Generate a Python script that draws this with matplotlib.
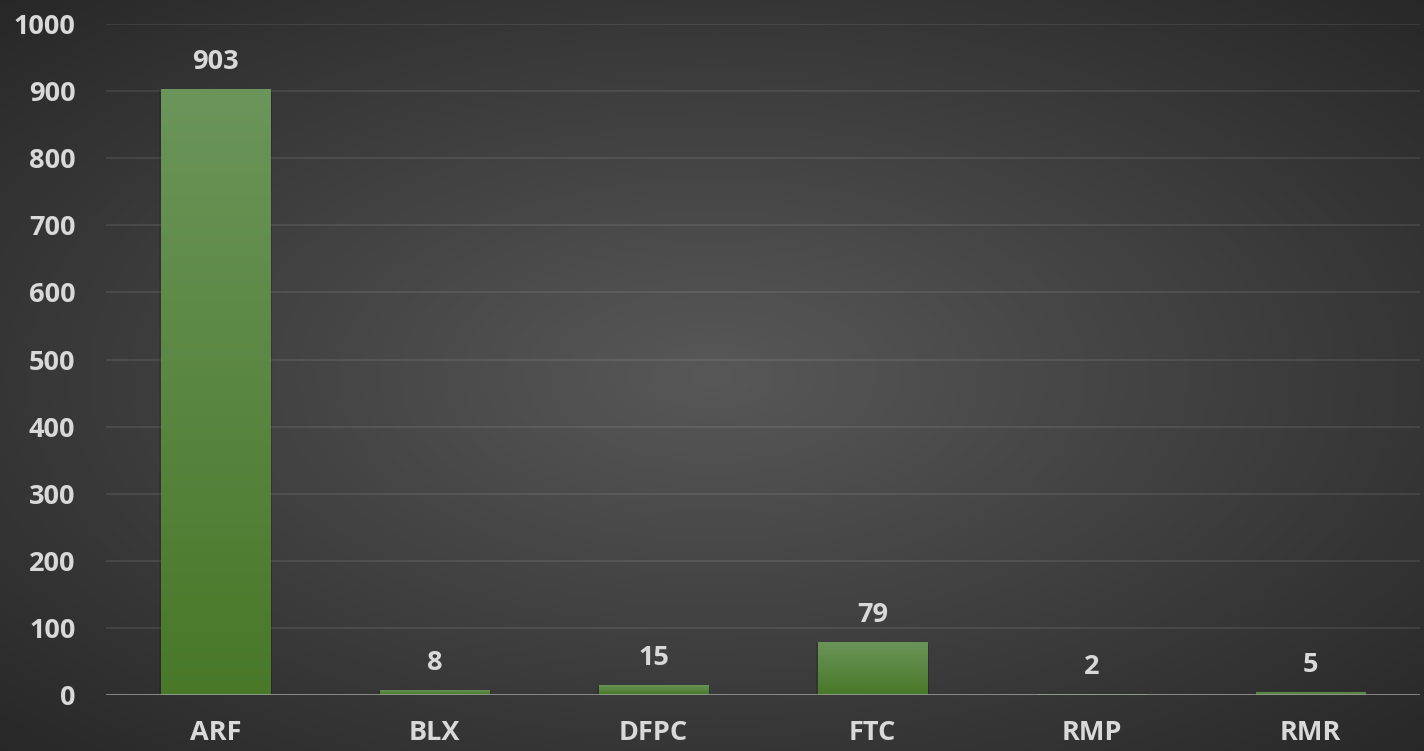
import numpy as np
import matplotlib
matplotlib.use("Agg")
import matplotlib.pyplot as plt
from matplotlib import patheffects as pe

categories = ["ARF", "BLX", "DFPC", "FTC", "RMP", "RMR"]
values = [903, 8, 15, 79, 2, 5]
yticks = [0, 100, 200, 300, 400, 500, 600, 700, 800, 900, 1000]

plt.rcParams['font.family'] = ['Open Sans', 'DejaVu Sans']
TXT = '#d9d9d9'
FS = 19.5

W, H = 1424, 751
fig = plt.figure(figsize=(W / 100, H / 100), dpi=100)

# radial gradient background
bgax = fig.add_axes([0, 0, 1, 1])
bgax.axis('off')
yy, xx = np.mgrid[0:H, 0:W]
r = np.sqrt(((xx - W / 2) / (W / 2)) ** 2 + ((yy - H / 2) / (H / 2)) ** 2) / np.sqrt(2)
c = 0.345 - 0.19 * r
bgax.imshow(np.dstack([c, c, c]), extent=[0, 1, 0, 1], aspect='auto', zorder=0)
bgax.set_xlim(0, 1)
bgax.set_ylim(0, 1)

ax = fig.add_axes([106 / W, 56 / H, 1314 / W, 671 / H])
ax.set_facecolor('none')
x = np.arange(len(categories))

for s in ax.spines.values():
    s.set_visible(False)

for t in yticks[1:]:
    ax.axhline(t, color='white', alpha=0.09, lw=1.3, zorder=1)
ax.axhline(0, color='#a3a3a3', lw=1.8, zorder=4)

bars = ax.bar(x, values, width=0.5, color='#4a7a2a', zorder=2,
              path_effects=[pe.SimplePatchShadow(offset=(1.5, -1.5), shadow_rgbFace='black', alpha=0.18),
                            pe.SimplePatchShadow(offset=(-1, -1), shadow_rgbFace='black', alpha=0.12),
                            pe.Normal()])

top = np.array([0x6b, 0x95, 0x5a]) / 255
bot = np.array([0x48, 0x78, 0x28]) / 255
grad = np.linspace(0, 1, 256)[:, None]
img = (top[None, None, :] * (1 - grad[..., None]) + bot[None, None, :] * grad[..., None])
for b, v in zip(bars, values):
    im = ax.imshow(img, extent=[b.get_x(), b.get_x() + b.get_width(), 0, v],
                   aspect='auto', zorder=3, origin='upper')
    im.set_clip_path(b)
    ax.annotate(f"{v}", (b.get_x() + b.get_width() / 2, v), xytext=(0, 10),
                textcoords='offset points', ha='center', va='bottom',
                fontsize=FS, fontweight='bold', color=TXT, zorder=5)

ax.set_xlim(-0.5, len(categories) - 0.5)
ax.set_ylim(0, 1000)
ax.set_xticks(x)
ax.set_xticklabels(categories, fontweight='bold')
ax.set_yticks(yticks)
ax.set_yticklabels([str(t) for t in yticks], fontweight='bold')
ax.tick_params(axis='x', length=0, pad=18, labelsize=FS, labelcolor=TXT)
ax.tick_params(axis='y', length=0, pad=22, labelsize=FS, labelcolor=TXT)

fig.savefig('out.png', dpi=100)
